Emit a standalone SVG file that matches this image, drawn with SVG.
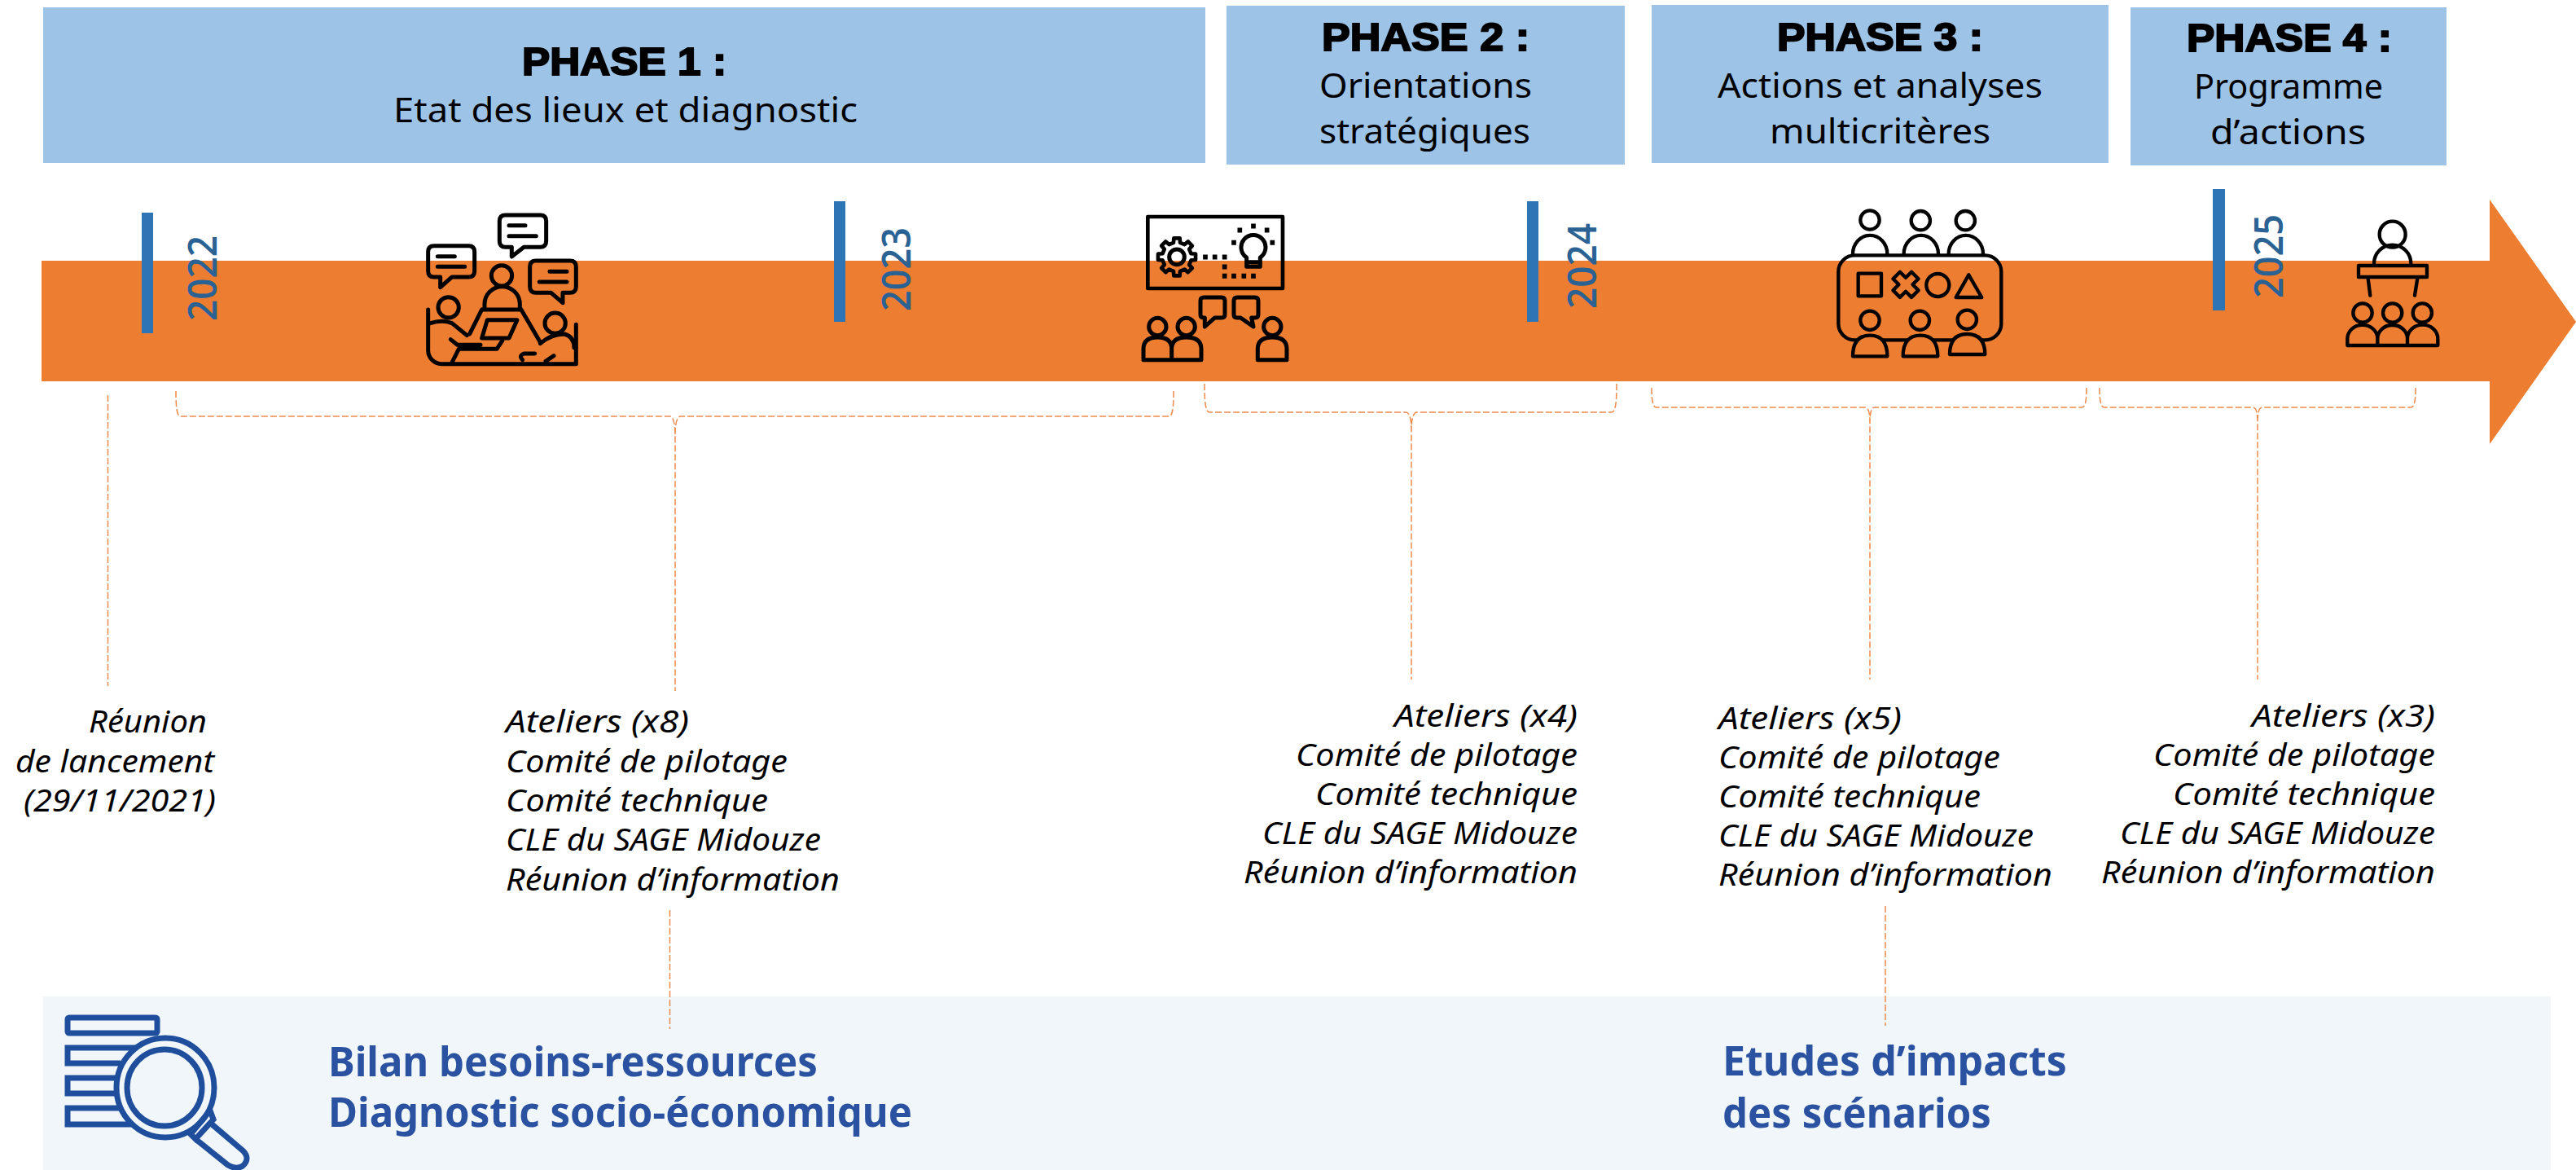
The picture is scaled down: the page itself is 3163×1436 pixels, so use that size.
<svg xmlns="http://www.w3.org/2000/svg" width="3163" height="1436" viewBox="0 0 3163 1436">
<style>
.ph{fill:#9dc3e6}
.tick{fill:#2e75b6}
.t{font-family:"Noto Sans","Open Sans",sans-serif;fill:#000}
.h{font-family:"Liberation Sans",Arial,sans-serif;font-weight:700;font-size:48px;fill:#000;stroke:#000;stroke-width:2}
.s{font-size:42px}
.i{font-style:italic;font-size:39px}
.y{font-family:"Open Sans","Noto Sans",sans-serif;font-weight:600;font-size:48px;fill:#2a6294}
.b{font-family:"Noto Sans","Open Sans",sans-serif;font-weight:700;font-size:50px;fill:#2a52a0}
.c{fill:none;stroke:#ee8a4c;stroke-width:1.500;stroke-dasharray:8 3}
.k{fill:none;stroke:#000;stroke-width:15;stroke-linecap:round;stroke-linejoin:round}
.k2{fill:none;stroke:#000;stroke-width:13;stroke-linecap:round;stroke-linejoin:round}
.m{fill:none;stroke:#1f4e9c;stroke-width:7}
</style>
<rect width="3163" height="1436" fill="#fff"/>

<g id="phase1"><rect class="ph" x="53" y="9" width="1427" height="191"/>
<text class="h" x="641" y="92" textLength="251" lengthAdjust="spacingAndGlyphs">PHASE 1 :</text>
<text class="t s" x="483" y="150" textLength="570" lengthAdjust="spacingAndGlyphs">Etat des lieux et diagnostic</text></g>
<g id="phase2"><rect class="ph" x="1506" y="7" width="489" height="195"/>
<text class="h" x="1623" y="62" textLength="255" lengthAdjust="spacingAndGlyphs">PHASE 2 :</text>
<text class="t s" x="1620" y="120" textLength="261" lengthAdjust="spacingAndGlyphs">Orientations</text>
<text class="t s" x="1620" y="176" textLength="259" lengthAdjust="spacingAndGlyphs">stratégiques</text></g>
<g id="phase3"><rect class="ph" x="2028" y="6" width="561" height="194"/>
<text class="h" x="2182" y="62" textLength="253" lengthAdjust="spacingAndGlyphs">PHASE 3 :</text>
<text class="t s" x="2109" y="120" textLength="399" lengthAdjust="spacingAndGlyphs">Actions et analyses</text>
<text class="t s" x="2173" y="176" textLength="271" lengthAdjust="spacingAndGlyphs">multicritères</text></g>
<g id="phase4"><rect class="ph" x="2616" y="9" width="388" height="194"/>
<text class="h" x="2685" y="63" textLength="252" lengthAdjust="spacingAndGlyphs">PHASE 4 :</text>
<text class="t s" x="2694" y="121" textLength="232" lengthAdjust="spacingAndGlyphs">Programme</text>
<text class="t s" x="2714" y="177" textLength="191" lengthAdjust="spacingAndGlyphs">d’actions</text></g>

<g id="timeline-arrow"><path fill="#ed7d31" d="M51 320H3057V245L3163 395L3057 545V468H51Z"/></g>

<g id="year-2022"><rect class="tick" x="174" y="261" width="14" height="148"/>
<text class="y" transform="translate(266 394) rotate(-90)" textLength="105" lengthAdjust="spacingAndGlyphs">2022</text></g>
<g id="year-2023"><rect class="tick" x="1024" y="247" width="14" height="148"/>
<text class="y" transform="translate(1118 382) rotate(-90)" textLength="103" lengthAdjust="spacingAndGlyphs">2023</text></g>
<g id="year-2024"><rect class="tick" x="1875" y="247" width="14" height="148"/>
<text class="y" transform="translate(1960 379) rotate(-90)" textLength="105" lengthAdjust="spacingAndGlyphs">2024</text></g>
<g id="year-2025"><rect class="tick" x="2717" y="232" width="15" height="149"/>
<text class="y" transform="translate(2803 366) rotate(-90)" textLength="103" lengthAdjust="spacingAndGlyphs">2025</text></g>

<g id="icon-meeting" transform="translate(480 240) scale(.3333)" class="k">
<path d="M422 72H550Q572 72 572 94V168Q572 190 550 190H490L445 225V190H422Q400 190 400 168V94Q400 72 422 72Z"/>
<path d="M435 110H495M435 149H535"/>
<path d="M159 185H286Q308 185 308 207V278Q308 300 286 300H225L182 338V300H159Q137 300 137 278V207Q137 185 159 185Z"/>
<path d="M172 224H235M172 262H272"/>
<path d="M534 240H660Q682 240 682 262V336Q682 358 660 358H633V395L590 358H534Q512 358 512 336V262Q512 240 534 240Z"/>
<path d="M585 280H648M547 318H648"/>
<circle cx="408" cy="295" r="38"/>
<path d="M345 415V400A65 65 0 0 1 475 400V415M335 420H480M335 420L290 510M480 420L550 540"/>
<path d="M355 458H465L435 525H335Z"/>
<path d="M220 530L245 550H330M410 535L390 565H250L225 615"/>
<circle cx="212" cy="412" r="38"/>
<path d="M137 420V570A50 50 0 0 0 187 620H682V475"/>
<path d="M145 470Q190 455 225 470L280 515"/>
<circle cx="605" cy="470" r="38"/>
<path d="M550 545Q590 510 640 510Q675 520 675 560M600 590L570 610M530 582H490Q470 590 485 605"/>
</g>

<g id="icon-workshop" transform="translate(1360 240) scale(.3333)" class="k">
<rect x="148" y="78" width="497" height="264" stroke-width="14"/>
<path transform="translate(255 226)" stroke-width="14" d="M-12.100-52.600L-11-69.100L11-69.100L12.100-52.600L28.600-45.700L41.100-56.600L56.600-41.100L45.700-28.600L52.600-12.100L69.100-11L69.100 11L52.600 12.100L45.700 28.600L56.600 41.100L41.100 56.600L28.600 45.700L12.100 52.600L11 69.100L-11 69.100L-12.100 52.600L-28.600 45.700L-41.100 56.600L-56.600 41.100L-45.700 28.600L-52.600 12.100L-69.100 11L-69.100-11L-52.600-12.100L-45.700-28.600L-56.600-41.100L-41.100-56.600L-28.600-45.700Z"/>
<circle cx="255" cy="226" r="28"/>
<path d="M512 228A45 45 0 1 1 562 228V262H512ZM512 245H562"/>
<path d="M537 112V113M487 127V128M587 127V128M465 173V174M607 173V174M360 226V227M395 226V227M431 226V227M431 262V263M431 296V297M465 296V297M502 296V297M537 296V297" stroke-width="17" stroke-linecap="square"/>
<path d="M354 375H420Q432 375 432 387V438Q432 450 420 450H395L358 483V450H354Q342 450 342 438V387Q342 375 354 375Z"/>
<path d="M477 375H543Q555 375 555 387V438Q555 450 543 450H530L537 483L490 450H477Q465 450 465 438V387Q465 375 477 375Z"/>
<circle cx="184" cy="483" r="32"/><circle cx="290" cy="483" r="32"/><circle cx="607" cy="483" r="32"/>
<path d="M132 605V565Q132 522 184 522Q236 522 236 565V605ZM236 605V565Q236 522 290 522Q345 522 345 565V605H236ZM553 605V565Q553 522 607 522Q660 522 660 565V605Z"/>
</g>

<g id="icon-table" transform="translate(2220 240) scale(.3333)" class="k2">
<circle cx="228" cy="90" r="35"/><circle cx="415" cy="92" r="35"/><circle cx="580" cy="92" r="35"/>
<path d="M165 215A63 68 0 0 1 292 215M353 215A63 68 0 0 1 480 215M518 215A63 68 0 0 1 645 215"/>
<rect x="112" y="220" width="600" height="312" rx="60"/>
<rect x="185" y="287" width="85" height="83"/>
<path transform="translate(360 328) rotate(45)" d="M-18-48H18V-18H48V18H18V48H-18V18H-48V-18H-18Z"/>
<circle cx="478" cy="330" r="42"/>
<path d="M592 292L545 375H640Z"/>
<circle cx="228" cy="460" r="35"/><circle cx="412" cy="460" r="35"/><circle cx="586" cy="457" r="35"/>
<path fill="#ed7d31" d="M165 592Q165 515 228 515Q292 515 292 592ZM350 592Q350 515 414 515Q478 515 478 592ZM522 585Q522 510 586 510Q652 510 652 585Z"/>
</g>

<g id="icon-speaker" transform="translate(2840 240) scale(.3333)" class="k2">
<circle cx="293" cy="143" r="48"/>
<path d="M225 250A68 68 0 0 1 361 250"/>
<rect x="168" y="258" width="252" height="42"/>
<path d="M203 305L211 368M385 305L375 368"/>
<circle cx="183" cy="432" r="35"/><circle cx="293" cy="432" r="35"/><circle cx="403" cy="432" r="35"/>
<path d="M127 552V527A55 50 0 0 1 238 527V552ZM238 552V527A55 50 0 0 1 348 527V552ZM348 552V527A55 50 0 0 1 460 527V552Z"/>
</g>

<g id="kickoff">
<text class="t i" x="109" y="899" textLength="145" lengthAdjust="spacingAndGlyphs">Réunion</text>
<text class="t i" x="19" y="948" textLength="244" lengthAdjust="spacingAndGlyphs">de lancement</text>
<text class="t i" x="29" y="996" textLength="236" lengthAdjust="spacingAndGlyphs">(29/11/2021)</text>
</g>
<g id="meetings-1">
<text class="t i" x="621" y="899" textLength="225" lengthAdjust="spacingAndGlyphs">Ateliers (x8)</text>
<text class="t i" x="621" y="948" textLength="346" lengthAdjust="spacingAndGlyphs">Comité de pilotage</text>
<text class="t i" x="621" y="996" textLength="322" lengthAdjust="spacingAndGlyphs">Comité technique</text>
<text class="t i" x="621" y="1044" textLength="387" lengthAdjust="spacingAndGlyphs">CLE du SAGE Midouze</text>
<text class="t i" x="621" y="1093" textLength="410" lengthAdjust="spacingAndGlyphs">Réunion d’information</text>
</g>
<g id="meetings-2">
<text class="t i" x="1712" y="892" textLength="225" lengthAdjust="spacingAndGlyphs">Ateliers (x4)</text>
<text class="t i" x="1591" y="940" textLength="346" lengthAdjust="spacingAndGlyphs">Comité de pilotage</text>
<text class="t i" x="1615" y="988" textLength="322" lengthAdjust="spacingAndGlyphs">Comité technique</text>
<text class="t i" x="1550" y="1036" textLength="387" lengthAdjust="spacingAndGlyphs">CLE du SAGE Midouze</text>
<text class="t i" x="1527" y="1084" textLength="410" lengthAdjust="spacingAndGlyphs">Réunion d’information</text>
</g>
<g id="meetings-3">
<text class="t i" x="2110" y="895" textLength="225" lengthAdjust="spacingAndGlyphs">Ateliers (x5)</text>
<text class="t i" x="2110" y="943" textLength="346" lengthAdjust="spacingAndGlyphs">Comité de pilotage</text>
<text class="t i" x="2110" y="991" textLength="322" lengthAdjust="spacingAndGlyphs">Comité technique</text>
<text class="t i" x="2110" y="1039" textLength="387" lengthAdjust="spacingAndGlyphs">CLE du SAGE Midouze</text>
<text class="t i" x="2110" y="1087" textLength="410" lengthAdjust="spacingAndGlyphs">Réunion d’information</text>
</g>
<g id="meetings-4">
<text class="t i" x="2765" y="892" textLength="225" lengthAdjust="spacingAndGlyphs">Ateliers (x3)</text>
<text class="t i" x="2644" y="940" textLength="346" lengthAdjust="spacingAndGlyphs">Comité de pilotage</text>
<text class="t i" x="2668" y="988" textLength="322" lengthAdjust="spacingAndGlyphs">Comité technique</text>
<text class="t i" x="2603" y="1036" textLength="387" lengthAdjust="spacingAndGlyphs">CLE du SAGE Midouze</text>
<text class="t i" x="2580" y="1084" textLength="410" lengthAdjust="spacingAndGlyphs">Réunion d’information</text>
</g>

<g id="studies">
<rect x="53" y="1223" width="3079" height="213" fill="#f1f6fb"/>
<g id="icon-search" class="m">
<rect x="83" y="1249" width="110" height="19" rx="2"/>
<path d="M168 1286H83V1305H148M143 1323H83V1342H141M146 1360H83V1380H162"/>
<ellipse cx="203" cy="1335" rx="60" ry="61"/>
<ellipse cx="202" cy="1335" rx="46" ry="47"/>
<path d="M258 1363L262 1374L240 1398L234 1392ZM258 1378L298 1412Q308 1422 298 1431Q290 1436 280 1430L240 1398"/>
</g>
<text class="b" x="403" y="1321" textLength="601" lengthAdjust="spacingAndGlyphs">Bilan besoins-ressources</text>
<text class="b" x="403" y="1383" textLength="717" lengthAdjust="spacingAndGlyphs">Diagnostic socio-économique</text>
<text class="b" x="2115" y="1320" textLength="423" lengthAdjust="spacingAndGlyphs">Etudes d’impacts</text>
<text class="b" x="2115" y="1384" textLength="330" lengthAdjust="spacingAndGlyphs">des scénarios</text>
</g>

<g id="connectors">
<path class="c" d="M132.500 485V842"/>
<path class="c" d="M216 480C216 500 217 511 222 511H822C827 511 829 520 829 535V848M1441 480C1441 500 1440 511 1435 511H836C831 511 829 520 829 535"/>
<path class="c" d="M1479 471C1479 492 1480 506 1485 506H1726C1731 506 1733 514 1733 530V834M1985 471C1985 492 1984 506 1979 506H1740C1735 506 1733 514 1733 530"/>
<path class="c" d="M2028 476C2028 490 2029 500 2034 500H2290C2295 500 2296 508 2296 520V834M2562 476C2562 490 2561 500 2556 500H2302C2297 500 2296 508 2296 520"/>
<path class="c" d="M2578 476C2578 490 2579 500 2584 500H2766C2771 500 2772 508 2772 520V834M2966 476C2966 490 2965 500 2960 500H2778C2773 500 2772 508 2772 520"/>
<path class="c" d="M822.500 1117V1263"/>
<path class="c" d="M2315 1112V1259"/>
</g>
</svg>
